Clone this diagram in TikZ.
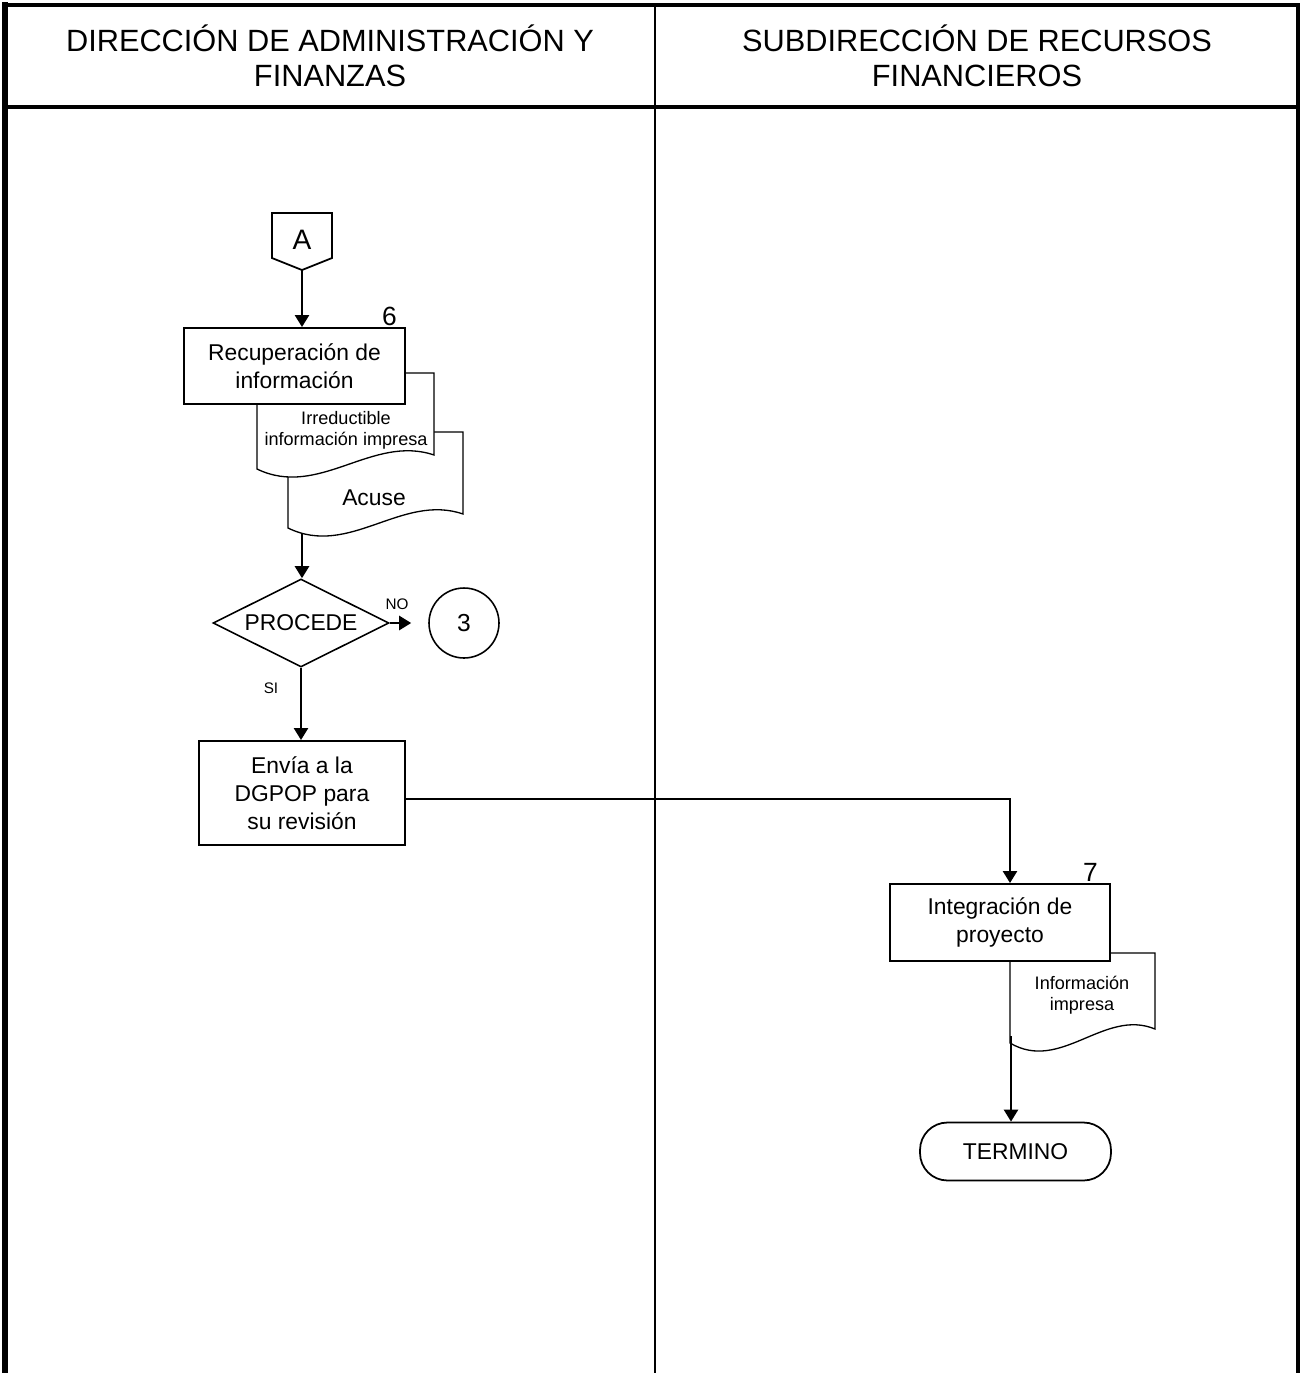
\documentclass[tikz,border=0pt]{standalone}
\usepackage{fontspec}
\setmainfont{Liberation Sans}
\usepackage{tikz}
\usetikzlibrary{arrows.meta, positioning, calc, shapes.geometric}
\newcommand{\hdrfont}{\fontsize{17.5}{20}\selectfont}
\newcommand{\boxfont}{\fontsize{13}{15.9}\selectfont}
\newcommand{\docfont}{\fontsize{10.3}{11.9}\selectfont}
\newcommand{\lblfont}{\fontsize{8.7}{10}\selectfont}
% document outline: left, top, right, bottom
\newcommand{\docu}[4]{%
  \draw[docline] (#1,#2) -- (#3,#2) -- (#3,{#4-14})
    .. controls +({-0.35*(#3-#1)},-21) and +({0.35*(#3-#1)},30) .. (#1,#4) -- cycle;
}

\begin{document}
\begin{tikzpicture}[
  x=0.02cm, y=-0.02cm,
  >={Triangle[length=0.24cm, width=0.28cm]},
  frame/.style={line width=2.6pt, line cap=rect},
  lane/.style={line width=1.4pt},
  proc/.style={
    draw, fill=white, line width=1.1pt,
    minimum width=4.42cm, minimum height=1.52cm, align=center, font=\boxfont
  },
  decis/.style={
    diamond, draw, line width=0.9pt, aspect=2, inner sep=0pt,
    minimum width=3.52cm, minimum height=1.76cm, font=\boxfont
  },
  connec/.style={circle, draw, line width=0.9pt, minimum size=1.4cm, inner sep=0pt,
    font=\fontsize{14}{16}\selectfont},
  termin/.style={draw, rounded corners=0.55cm, line width=1pt,
    minimum width=3.82cm, minimum height=1.16cm, font=\boxfont},
  docline/.style={draw, fill=white, line width=0.75pt},
  doctext/.style={align=center, font=\docfont},
  num/.style={anchor=south east, inner sep=0.5pt, font=\fontsize{15}{17}\selectfont},
  lbl/.style={font=\lblfont},
  arr/.style={->, line width=1.4pt},
]
\useasboundingbox (0,0) rectangle (1303,1373);

% --- Swimlane frame ---
\draw[frame, line width=3pt] (5,1373) -- (5,5);
\draw[frame] (5,5) -- (1298,5);
\draw[frame, line width=1.8pt] (1298,5) -- (1298,1373);
\draw[frame] (5,107) -- (1298,107);
\draw[lane] (655,5) -- (655,1373);

\node[font=\hdrfont, align=center] (hdrDAF) at (330,56) {DIRECCIÓN DE ADMINISTRACIÓN Y\\FINANZAS};
\node[font=\hdrfont, align=center] (hdrSRF) at (977,56) {SUBDIRECCIÓN DE RECURSOS\\FINANCIEROS};

% --- Connector A ---
\draw[line width=1pt, fill=white] (272,213) -- (332,213) -- (332,258) -- (302,270) -- (272,258) -- cycle;
\node[font=\fontsize{16}{18}\selectfont] (conA) at (302,240) {A};
\coordinate (conAtip) at (302,270);

% --- Step 6 with its documents ---
\docu{288}{432}{463}{528}
\docu{257}{373}{434}{469}
\node[proc] (recup) at (294.5,366) {Recuperación de\\información};
\node[num] at ([xshift=-0.16cm]recup.north east) {6};
\node[doctext] (docIrr) at (346,430) {Irreductible\\información impresa};
\node[doctext, font=\boxfont] (docAcuse) at (374,498) {Acuse};
\coordinate (acuseBot) at (302,534);

% --- Decision ---
\node[decis] (dec) at (301,623) {PROCEDE};
\node[connec] (con3) at (464,623) {3};
\node[lbl] (lblNo) at (397,604) {NO};
\node[lbl] (lblSi) at (271,688) {SI};
\node[proc, minimum width=4.12cm, minimum height=2.08cm] (envia) at (302,793) {Envía a la\\DGPOP para\\su revisión};

% --- Step 7 ---
\docu{1010}{953}{1155}{1043}
\node[proc, minimum width=4.4cm, minimum height=1.54cm] (integ) at (1000,922.5) {Integración de\\proyecto};
\node[num] at ([xshift=-0.24cm]integ.north east) {7};
\node[doctext] (docInfo) at (1082,995) {Información\\impresa};
\coordinate (infoBot) at (1011,1036);
\node[termin] (term) at (1015.5,1151.5) {TERMINO};

% --- Connectors ---
\draw[arr] (conAtip) -- (conAtip |- recup.north);
\draw[arr] (acuseBot) -- (acuseBot |- dec.north);
\draw[arr, shorten >=0.34cm] (dec.east) -- (con3.west);
\draw[arr] (dec.south) -- (dec.south |- envia.north);
\draw[arr] ([yshift=-0.12cm]envia.east) -| ([xshift=0.2cm]integ.north);
\draw[arr] (infoBot) -- (infoBot |- term.north);

\end{tikzpicture}
\end{document}
